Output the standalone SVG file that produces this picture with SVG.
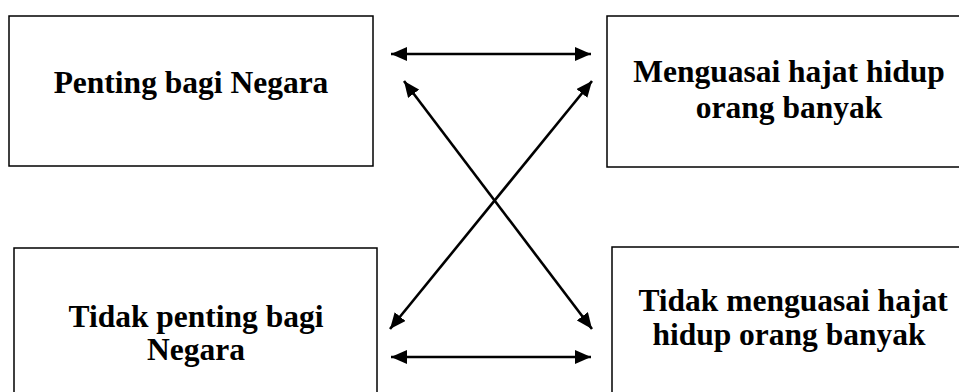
<svg xmlns="http://www.w3.org/2000/svg" width="959" height="392" viewBox="0 0 959 392">
  <defs>
    <style>
      .box { fill: #ffffff; stroke: #000000; stroke-width: 1.5; }
      .lbl { font-family: "Liberation Serif", "Times New Roman", serif; font-weight: bold; font-size: 31.5px; fill: #000000; text-anchor: middle; }
      .arr { stroke: #000000; stroke-width: 2.6; fill: none; marker-start: url(#head); marker-end: url(#head); }
    </style>
    <marker id="head" viewBox="0 0 16 14" refX="16" refY="7" markerWidth="16" markerHeight="14" markerUnits="userSpaceOnUse" orient="auto-start-reverse">
      <path d="M0,0 L16,7 L0,14 Z" fill="#000000"/>
    </marker>
  </defs>
  <rect width="959" height="392" fill="#ffffff"/>
  <g id="node-penting">
    <rect class="box" x="9" y="16" width="364" height="150"/>
    <text class="lbl" x="191" y="93">Penting bagi Negara</text>
  </g>
  <g id="node-menguasai">
    <rect class="box" x="607" y="16" width="364" height="151"/>
    <text class="lbl" x="789" y="82">Menguasai hajat hidup</text>
    <text class="lbl" x="789" y="118">orang banyak</text>
  </g>
  <g id="node-tidak-penting">
    <rect class="box" x="14" y="248" width="363" height="160"/>
    <text class="lbl" x="196" y="327">Tidak penting bagi</text>
    <text class="lbl" x="196" y="360">Negara</text>
  </g>
  <g id="node-tidak-menguasai">
    <rect class="box" x="612" y="247" width="364" height="160"/>
    <text class="lbl" x="793" y="311">Tidak menguasai hajat</text>
    <text class="lbl" x="789" y="345">hidup orang banyak</text>
  </g>
  <g id="connectors">
    <line class="arr" x1="391" y1="54" x2="591" y2="54"/>
    <line class="arr" x1="391" y1="357" x2="591" y2="357"/>
    <line class="arr" x1="404" y1="81" x2="592" y2="329"/>
    <line class="arr" x1="592" y1="81" x2="390" y2="329"/>
  </g>
</svg>
